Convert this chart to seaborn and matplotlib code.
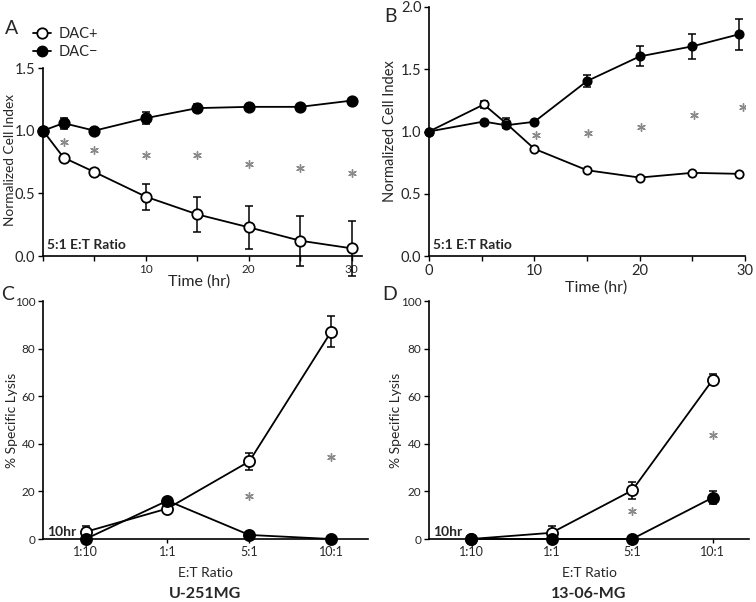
import numpy as np
import pandas as pd
import matplotlib
matplotlib.use('Agg')
import matplotlib.pyplot as plt
from matplotlib.lines import Line2D
from matplotlib.ticker import MultipleLocator
import seaborn as sns

sns.set_theme(style='ticks')
plt.rcParams['font.family'] = ['Lato', 'DejaVu Sans']

# ---------------- data ----------------
# Panel A (U-251MG, 5:1)
time_a = [0, 2, 5, 10, 15, 20, 25, 30]
a_pos = [1.0, 0.785, 0.67, 0.473, 0.332, 0.229, 0.122, 0.061]
a_pos_err = [0, 0.0, 0.027, 0.105, 0.14, 0.17, 0.2, 0.22]
a_neg = [1.0, 1.06, 1.0, 1.10, 1.18, 1.19, 1.19, 1.24]
a_neg_err = [0, 0.045, 0, 0.05, 0.035, 0, 0, 0]
a_star_t = [2, 5, 10, 15, 20, 25, 30]
a_star_y = [0.91, 0.846, 0.806, 0.806, 0.734, 0.70, 0.665]

# Panel B (13-06-MG, 5:1)
time_b = [0, 5.2, 7.3, 10, 15, 20, 25, 29.4]
b_pos = [1.0, 1.217, 1.067, 0.861, 0.689, 0.63, 0.668, 0.66]
b_pos_err = [0, 0.03, 0.04, 0, 0, 0, 0, 0]
b_neg = [1.0, 1.08, 1.05, 1.078, 1.405, 1.603, 1.684, 1.78]
b_neg_err = [0, 0, 0, 0, 0.05, 0.08, 0.1, 0.125]
b_star_t = [10.2, 15.1, 20.1, 25.2, 29.8]
b_star_y = [0.973, 0.987, 1.04, 1.134, 1.196]

# Panels C, D (10 hr)
ratios = ['1:10', '1:1', '5:1', '10:1']
c_pos = [3.0, 12.8, 32.6, 87.1]
c_pos_err = [2.5, 2.0, 3.4, 6.6]
c_neg = [0, 16.1, 1.7, 0]
c_neg_err = [0, 0, 1.0, 0]
c_star_i = [2, 3]
c_star_y = [18, 34.3]

d_pos = [0, 2.6, 20.4, 66.9]
d_pos_err = [0, 2.7, 3.5, 2.3]
d_neg = [0, 0, 0, 17.4]
d_neg_err = [0, 0, 0, 2.6]
d_star_i = [2, 3]
d_star_y = [11.7, 43.6]

W, H = 756, 602
fig = plt.figure(figsize=(W / 100, H / 100), dpi=100)


def axes_px(left, right, top, bottom):
    return fig.add_axes([left / W, 1 - bottom / H, (right - left) / W, (bottom - top) / H])


axA = axes_px(43, 362, 68, 256)
axB = axes_px(429, 745, 7, 256)
axC = axes_px(43, 368, 301, 539)
axD = axes_px(429, 749, 301, 539)

LW = 1.3
STAR = '#8a8a8a'


def draw_series(ax, x, y, err, filled, ms, z):
    df = pd.DataFrame({'x': x, 'y': y})
    sns.lineplot(data=df, x='x', y='y', ax=ax, color='black', lw=LW,
                 marker='o', markersize=ms,
                 markerfacecolor='black' if filled else 'white',
                 markeredgecolor='black', markeredgewidth=1.3,
                 zorder=z, clip_on=False)
    e = np.array(err)
    mask = e > 0
    ax.errorbar(np.array(x)[mask], np.array(y)[mask], yerr=e[mask], fmt='none',
                ecolor='black', elinewidth=1.1, capsize=3, capthick=1.1,
                zorder=z - 1, clip_on=False)


def draw_stars(ax, x, y):
    sns.scatterplot(x=x, y=y, ax=ax, marker=(6, 2, 0), s=30, color=STAR,
                    linewidth=1.0, zorder=3, legend=False)


def style(ax):
    sns.despine(ax=ax)
    for s in ('left', 'bottom'):
        ax.spines[s].set_linewidth(1.2)
        ax.spines[s].set_color('black')
    ax.tick_params(axis='both', direction='out', length=3.5, width=1.0,
                   color='black', pad=2)
    ax.tick_params(which='minor', direction='out', length=3.5, width=1.0, color='black')
    ax.set_facecolor('none')


# ----- Panel A -----
draw_series(axA, time_a, a_pos, a_pos_err, False, 7.5, 4)
draw_series(axA, time_a, a_neg, a_neg_err, True, 7.5, 5)
draw_stars(axA, a_star_t, a_star_y)
axA.set_xlim(0, 31)
axA.set_ylim(0, 1.5)
axA.set_yticks([0, 0.5, 1.0, 1.5])
axA.set_yticklabels(['0.0', '0.5', '1.0', '1.5'], fontsize=10.5)
axA.set_xticks([10, 20, 30])
axA.set_xticklabels(['10', '20', '30'], fontsize=8.5)
axA.xaxis.set_minor_locator(MultipleLocator(5))
style(axA)
axA.set_xlabel('Time (hr)', fontsize=11.5)
axA.set_ylabel('Normalized Cell Index', fontsize=9.8)
axA.xaxis.set_label_coords(0.49, -0.096)
axA.yaxis.set_label_coords(-0.085, 0.51)
axA.text(0.013, 0.058, '5:1 E:T Ratio', transform=axA.transAxes, fontsize=10,
         fontweight='bold', ha='left', va='center')

handles = [Line2D([], [], color='black', lw=LW, marker='o', markersize=7.5,
                  markerfacecolor='white', markeredgecolor='black', markeredgewidth=1.3),
           Line2D([], [], color='black', lw=LW, marker='o', markersize=7.5,
                  markerfacecolor='black', markeredgecolor='black')]
fig.legend(handles, ['DAC+', 'DAC\u2212'], loc='upper left',
           bbox_to_anchor=(33 / W, 1 - 27 / H), frameon=False, fontsize=10.5,
           handlelength=1.25, handletextpad=0.5, labelspacing=0.3, borderaxespad=0,
           borderpad=0)

# ----- Panel B -----
draw_series(axB, time_b, b_pos, b_pos_err, False, 6, 4)
draw_series(axB, time_b, b_neg, b_neg_err, True, 6, 5)
draw_stars(axB, b_star_t, b_star_y)
axB.set_xlim(0, 30)
axB.set_ylim(0, 2.0)
axB.set_yticks([0, 0.5, 1.0, 1.5, 2.0])
axB.set_yticklabels(['0.0', '0.5', '1.0', '1.5', '2.0'], fontsize=10.5)
axB.set_xticks([0, 10, 20, 30])
axB.set_xticklabels(['0', '10', '20', '30'], fontsize=10.5)
axB.xaxis.set_minor_locator(MultipleLocator(5))
style(axB)
axB.set_xlabel('Time (hr)', fontsize=11.5)
axB.set_ylabel('Normalized Cell Index', fontsize=10.5)
axB.xaxis.set_label_coords(0.53, -0.096)
axB.yaxis.set_label_coords(-0.10, 0.5)
axB.text(0.013, 0.044, '5:1 E:T Ratio', transform=axB.transAxes, fontsize=10,
         fontweight='bold', ha='left', va='center')


# ----- Panels C, D -----
def lysis_panel(ax, pos, pos_err, neg, neg_err, star_i, star_y, name):
    xs = list(range(len(ratios)))
    draw_series(ax, xs, pos, pos_err, False, 8, 4)
    draw_series(ax, xs, neg, neg_err, True, 8, 5)
    draw_stars(ax, star_i, star_y)
    ax.set_xlim(-0.52, 3.45)
    ax.set_ylim(0, 100)
    ax.set_yticks([0, 20, 40, 60, 80, 100])
    ax.set_yticklabels(['0', '20', '40', '60', '80', '100'], fontsize=8.5)
    ax.set_xticks(xs)
    ax.set_xticklabels(ratios, fontsize=9)
    style(ax)
    ax.tick_params(axis='x', length=3)
    ax.set_xlabel('E:T Ratio', fontsize=10)
    ax.set_ylabel('% Specific Lysis', fontsize=10)
    ax.xaxis.set_label_coords(0.5, -0.118)
    ax.yaxis.set_label_coords(-0.077, 0.5)
    ax.text(0.013, 0.03, '10hr', transform=ax.transAxes, fontsize=10,
            fontweight='bold', ha='left', va='center')
    ax.text(0.5, -0.232, name, transform=ax.transAxes, fontsize=11.5,
            fontweight='bold', ha='center', va='center')


lysis_panel(axC, c_pos, c_pos_err, c_neg, c_neg_err, c_star_i, c_star_y, 'U-251MG')
lysis_panel(axD, d_pos, d_pos_err, d_neg, d_neg_err, d_star_i, d_star_y, '13-06-MG')
axD.yaxis.set_label_coords(-0.084, 0.5)

# panel letters
for lbl, (px, py) in {'A': (12, 28), 'B': (391, 16), 'C': (8, 294), 'D': (390, 294)}.items():
    fig.text(px / W, 1 - py / H, lbl, fontsize=14, ha='center', va='center')

fig.savefig('out.png', dpi=100)
